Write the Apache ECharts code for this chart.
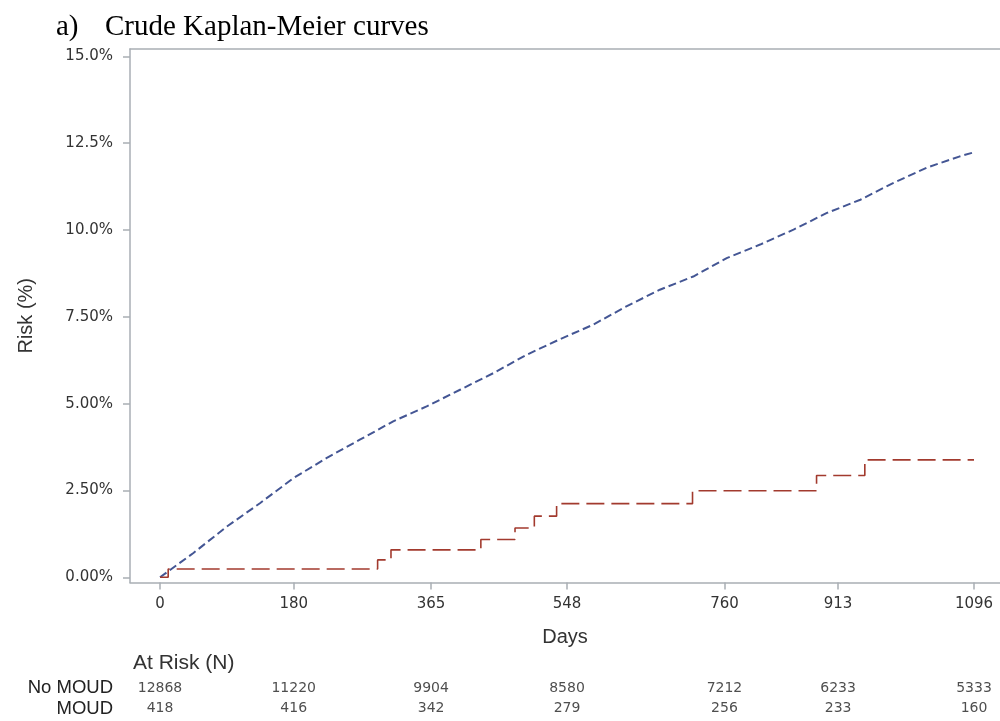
<!DOCTYPE html>
<html>
<head>
<meta charset="utf-8">
<script src="https://cdn.jsdelivr.net/npm/echarts@6/dist/echarts.min.js"></script>
<style>
  html, body { margin: 0; padding: 0; background: #fff; }
  #main { width: 1000px; height: 721px; }
</style>
</head>
<body>
<div id="main"></div>
<script>
// x axis ticks (days) and y axis ticks (%)
var dayTicks = [0, 180, 365, 548, 760, 913, 1096];
var riskTicks = [0, 2.5, 5, 7.5, 10, 12.5, 15];
var riskTickLabels = ['0.00%', '2.50%', '5.00%', '7.50%', '10.0%', '12.5%', '15.0%'];

// No MOUD curve (blue)
var noMoudDays = [0, 45, 90, 135, 180, 224, 269, 314, 359, 404, 449, 494, 539,
  583, 628, 673, 718, 763, 808, 853, 898, 943, 987, 1032, 1077, 1095];
var noMoudRisk = [0, 0.70, 1.46, 2.14, 2.86, 3.43, 3.96, 4.49, 4.92, 5.40, 5.88, 6.41, 6.86,
  7.27, 7.80, 8.28, 8.66, 9.19, 9.58, 10.01, 10.49, 10.87, 11.35, 11.79, 12.12, 12.23];

// MOUD curve (red step)
var moudDays = [0, 11, 293, 311, 432, 478, 504, 534, 717, 884, 949, 1096];
var moudRisk = [0, 0.24, 0.50, 0.79, 1.09, 1.42, 1.76, 2.12, 2.49, 2.93, 3.38, 3.38];

// at risk table
var atRiskGroups = ['No MOUD', 'MOUD'];
var atRiskNoMoud = [12868, 11220, 9904, 8580, 7212, 6233, 5333];
var atRiskMoud = [418, 416, 342, 279, 256, 233, 160];

var chart = echarts.init(document.getElementById('main'));

var zip = function (xs, ys) {
    return xs.map(function (x, i) { return [x, ys[i]]; });
};

var tableData = [];
dayTicks.forEach(function (d, i) {
    tableData.push([d, 'No MOUD', atRiskNoMoud[i]]);
    tableData.push([d, 'MOUD', atRiskMoud[i]]);
});

var xMin = -40.4, xMax = 1131;
var gridLeft = 130, gridWidth = 870;
var frameColor = '#a9aeb4';

var option = {
    animation: false,
    backgroundColor: '#fff',
    grid: [
        { left: gridLeft, top: 49, width: gridWidth, height: 533.5 },
        { left: gridLeft, top: 678, width: gridWidth, height: 41 }
    ],
    xAxis: [
        {
            type: 'value', gridIndex: 0, min: xMin, max: xMax,
            name: 'Days', nameLocation: 'middle', nameGap: 45,
            nameTextStyle: { fontFamily: 'Liberation Sans', fontSize: 20, color: '#333' },
            splitLine: { show: false },
            axisLine: { show: true, onZero: false, lineStyle: { color: frameColor, width: 1.5 } },
            axisTick: { show: true, length: 7, customValues: dayTicks, lineStyle: { color: frameColor, width: 1.5 } },
            axisLabel: {
                customValues: dayTicks, margin: 14, fontFamily: 'DejaVu Sans', fontSize: 15, color: '#333',
                formatter: function (v) { return String(v); }
            }
        },
        {
            type: 'value', gridIndex: 1, min: xMin, max: xMax, show: false
        },
        {
            // top frame line
            type: 'value', gridIndex: 0, min: xMin, max: xMax, position: 'top',
            axisLine: { show: true, onZero: false, lineStyle: { color: frameColor, width: 1.5 } },
            axisTick: { show: false }, axisLabel: { show: false }, splitLine: { show: false }
        }
    ],
    yAxis: [
        {
            type: 'value', gridIndex: 0, min: -0.15, max: 15.21,
            name: 'Risk (%)', nameLocation: 'middle', nameGap: 94,
            nameTextStyle: { fontFamily: 'Liberation Sans', fontSize: 20, color: '#333' },
            splitLine: { show: false },
            axisLine: { show: true, onZero: false, lineStyle: { color: frameColor, width: 1.5 } },
            axisTick: { show: true, length: 7, customValues: riskTicks, lineStyle: { color: frameColor, width: 1.5 } },
            axisLabel: {
                customValues: riskTicks, margin: 17, fontFamily: 'DejaVu Sans', fontSize: 15, color: '#333',
                formatter: function (v) {
                    var i = riskTicks.indexOf(v);
                    return i >= 0 ? riskTickLabels[i] : '';
                }
            }
        },
        {
            type: 'category', gridIndex: 1, data: atRiskGroups, inverse: true,
            axisLine: { show: false }, axisTick: { show: false }, splitLine: { show: false },
            axisLabel: { interval: 0, margin: 17, fontFamily: 'Liberation Sans', fontSize: 18.5, color: '#222' }
        }
    ],
    series: [
        {
            name: 'No MOUD', type: 'line', xAxisIndex: 0, yAxisIndex: 0,
            data: zip(noMoudDays, noMoudRisk), showSymbol: false, symbol: 'none',
            lineStyle: { color: '#445694', width: 2, type: [8, 4] }
        },
        {
            name: 'MOUD', type: 'line', xAxisIndex: 0, yAxisIndex: 0, step: 'end',
            data: zip(moudDays, moudRisk), showSymbol: false, symbol: 'none',
            lineStyle: { color: '#a23a2e', width: 1.6, type: [18, 7] }
        },
        {
            type: 'scatter', xAxisIndex: 1, yAxisIndex: 1, data: tableData, silent: true,
            symbolSize: 1, itemStyle: { color: 'rgba(0,0,0,0)' }, clip: false,
            label: {
                show: true, position: 'inside', fontFamily: 'DejaVu Sans', fontSize: 14, color: '#222',
                formatter: function (p) { return String(p.value[2]); }
            }
        }
    ],
    graphic: [
        { type: 'text', left: 56, top: 13, style: { text: 'a)', font: '29px "Liberation Serif"', fill: '#000' } },
        { type: 'text', left: 105, top: 13, style: { text: 'Crude Kaplan-Meier curves', font: '29px "Liberation Serif"', fill: '#000' } },
        { type: 'text', left: 133, top: 653, style: { text: 'At Risk (N)', font: '21px "Liberation Sans"', fill: '#333' } }
    ]
};

chart.setOption(option);
</script>
</body>
</html>
